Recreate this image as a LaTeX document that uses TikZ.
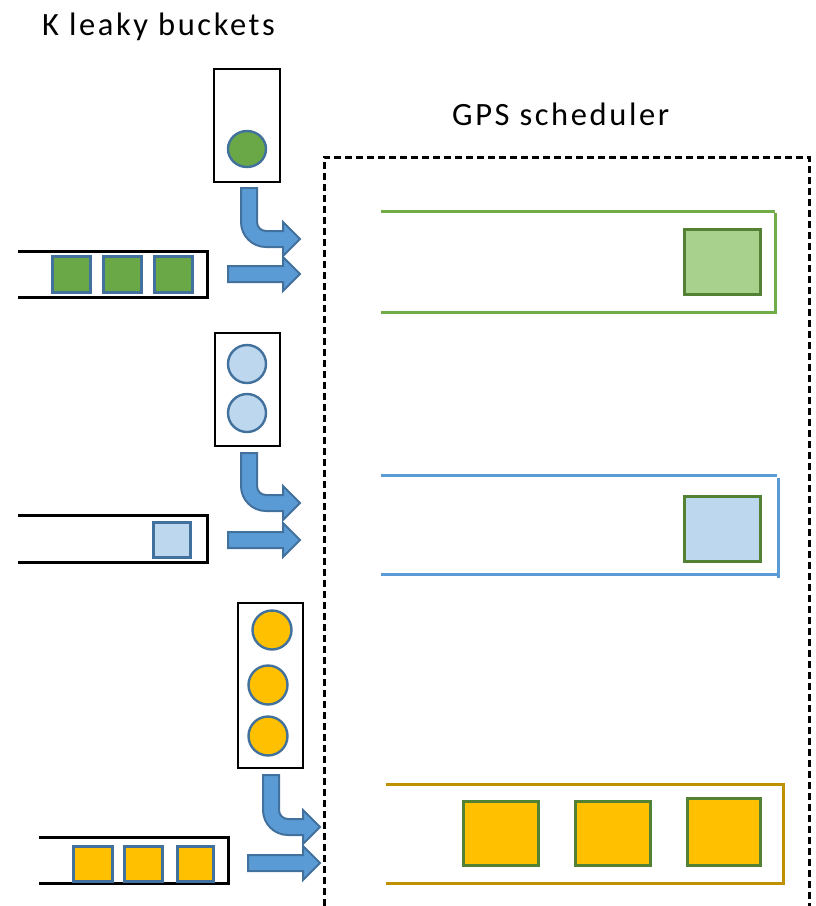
\documentclass[tikz,border=0pt]{standalone}
\usepackage{fontspec}
\setmainfont[LetterSpace=8]{Carlito}
\definecolor{arrowfill}{HTML}{5B9BD5}
\definecolor{arrowline}{HTML}{41719C}
\definecolor{gfill}{HTML}{6AA746}
\definecolor{glight}{HTML}{A9D18E}
\definecolor{gdark}{HTML}{548235}
\definecolor{gline}{HTML}{70AD47}
\definecolor{bline}{HTML}{5B9BD5}
\definecolor{blight}{HTML}{BDD7EE}
\definecolor{oline}{HTML}{BF9000}
\definecolor{ofill}{HTML}{FFC000}
\tikzset{
  bucketbox/.style={draw=black, line width=2.6pt},
  queueline/.style={draw=black, line width=3pt},
  token/.style={draw=arrowline, line width=2.4pt},
  pkt/.style={draw=arrowline, line width=3pt},
  schedpkt/.style={draw=gdark, line width=3pt},
  schedline/.style={line width=3pt},
  fatarrow/.style={fill=arrowfill, draw=arrowline, line width=2pt, line join=miter},
  label/.style={font=\fontsize{32.5}{38}\selectfont, anchor=base west, inner sep=0pt},
}
\begin{document}
\begin{tikzpicture}[x=1pt,y=-1pt]
\useasboundingbox (0,0) rectangle (815,906);
% titles
\node[label] (ktitle) at (42,35) {K leaky buckets};
\node[label] (gpstitle) at (452,125) {GPS scheduler};
% dashed scheduler box
\draw[line width=3pt, dash pattern=on 7pt off 4pt] (324,906) -- (324,157) -- (809,157) -- (809,906);

% ---------- green flow ----------
\draw[bucketbox] (214,69) rectangle (280,182);
\draw[token, fill=gfill] (247,149) ellipse [x radius=19, y radius=18];
\draw[fatarrow] (241,188) -- (241,222) .. controls (241,235.8) and (252.2,247) .. (266,247) -- (283,247) -- (283,256) -- (300,239) -- (283,222) -- (283,231) -- (266,231) .. controls (261,231) and (257,227) .. (257,222) -- (257,188) -- cycle;
\draw[fatarrow] (228,266) -- (283,266) -- (283,257) -- (300,274) -- (283,291) -- (283,282) -- (228,282) -- cycle;
\draw[queueline] (18,251) -- (207,251) -- (207,297) -- (18,297);
\foreach \x in {52,103,154} \draw[pkt, fill=gfill] (\x,256) rectangle (\x+38,292);
\draw[gline, schedline] (381,211) -- (775,211) (775,213) -- (775,314) (381,312) -- (775,312);
\draw[schedpkt, fill=glight] (684,229) rectangle (760,294);

% ---------- blue flow ----------
\draw[bucketbox] (215,333) rectangle (280,446);
\draw[token, fill=blight] (247,364) circle [radius=19];
\draw[token, fill=blight] (247,413) circle [radius=19];
\draw[fatarrow] (241,453) -- (241,486) .. controls (241,499.8) and (252.2,511) .. (266,511) -- (283,511) -- (283,520) -- (300,503) -- (283,486) -- (283,495) -- (266,495) .. controls (261,495) and (257,491) .. (257,486) -- (257,453) -- cycle;
\draw[fatarrow] (228,532) -- (283,532) -- (283,523) -- (300,540) -- (283,557) -- (283,548) -- (228,548) -- cycle;
\draw[queueline] (18,515) -- (207,515) -- (207,562) -- (18,562);
\draw[pkt, fill=blight] (153,522) rectangle (190,557);
\draw[bline, schedline] (381,475) -- (777,475) (778,478) -- (778,578) (381,574) -- (777,574);
\draw[schedpkt, fill=blight] (684,496) rectangle (760,561);

% ---------- orange flow ----------
\draw[bucketbox] (238,603) rectangle (303,768);
\draw[token, fill=ofill] (272,630) circle [radius=19.5];
\draw[token, fill=ofill] (268,685) circle [radius=19.5];
\draw[token, fill=ofill] (268,736) circle [radius=19.5];
\draw[fatarrow] (263,775) -- (263,810) .. controls (263,823.8) and (274.2,835) .. (288,835) -- (303,835) -- (303,844) -- (320,827) -- (303,810) -- (303,819) -- (288,819) .. controls (283,819) and (279,815) .. (279,810) -- (279,775) -- cycle;
\draw[fatarrow] (248,855) -- (303,855) -- (303,846) -- (320,863) -- (303,880) -- (303,871) -- (248,871) -- cycle;
\draw[queueline] (39,837) -- (228,837) -- (228,883) -- (39,883);
\draw[pkt, fill=ofill] (73,846) rectangle (112,881);
\draw[pkt, fill=ofill] (124,846) rectangle (162,881);
\draw[pkt, fill=ofill] (177,846) rectangle (213,881);
\draw[oline, schedline] (386,784) -- (783,784) -- (783,883) -- (386,883);
\draw[schedpkt, fill=ofill] (463,801) rectangle (538,865);
\draw[schedpkt, fill=ofill] (575,801) rectangle (650,865);
\draw[schedpkt, fill=ofill] (687,798) rectangle (760,865);
\end{tikzpicture}
\end{document}
